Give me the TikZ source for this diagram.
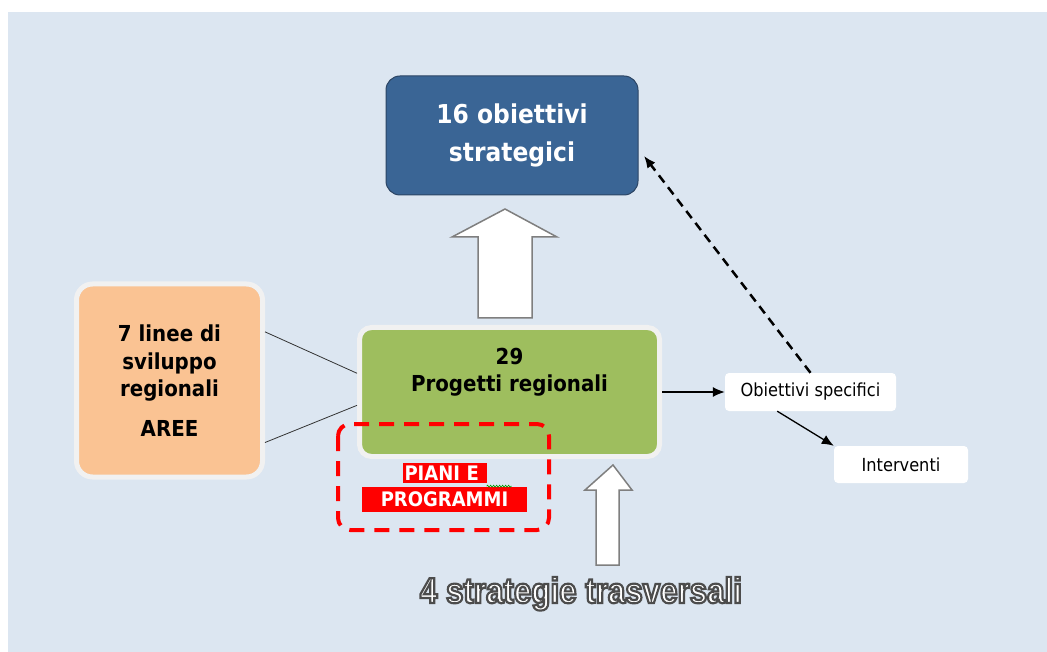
\documentclass[tikz,border=0pt]{standalone}
\usepackage{fontspec}
\setmainfont{DejaVu Sans}[FakeStretch=0.9]
\newfontfamily\stratfont{Liberation Sans}[FakeStretch=0.87,
    UprightFeatures={FakeBold=6}, BoldFeatures={FakeBold=6}]
\usetikzlibrary{arrows.meta,calc,decorations.pathmorphing}
\definecolor{sfondo}{HTML}{DCE6F1}
\definecolor{blustrat}{HTML}{3A6595}
\definecolor{bordoblu}{HTML}{2C4564}
\definecolor{arancio}{HTML}{FAC393}
\definecolor{verde}{HTML}{9EBE5E}
\definecolor{cornice}{HTML}{F1F1F1}
\definecolor{grigio}{HTML}{7F7F7F}
\newcommand{\contorno}{\special{pdf:code 0.3 G}}
\begin{document}
\begin{tikzpicture}[
            x=1pt, y=-1pt,
            every node/.style={align=center, inner sep=0pt},
            obiettivi/.style={draw=bordoblu, fill=blustrat, line width=1pt, rounded corners=14pt,
                text=white, font=\fontsize{26}{38}\selectfont\bfseries,
                minimum width=252pt, minimum height=119pt},
            area/.style={draw=cornice, fill=arancio, line width=5pt, rounded corners=16pt,
                font=\fontsize{22}{27.5}\selectfont\bfseries,
                minimum width=186pt, minimum height=193pt},
            progetto/.style={draw=cornice, fill=verde, line width=5pt, rounded corners=12pt,
                minimum width=300pt, minimum height=129pt},
            voce/.style={fill=white, rounded corners=4pt, font=\fontsize{18}{22}\selectfont,
                minimum height=38pt},
            piano/.style={fill=red, text=white, font=\fontsize{20}{24}\selectfont\bfseries},
            frecciona/.style={draw=grigio, fill=white, line width=1.5pt},
            freccia/.style={-{Latex[length=12pt,width=10pt]}, line width=1.3pt},
            strategie/.style={anchor=base, text=white, font=\stratfont\fontsize{36}{40}\selectfont\bfseries}
            ]
            \useasboundingbox (0,0) rectangle (1047,652);
            \fill[white] (0,0) rectangle (1047,652);
            \fill[sfondo] (8,12) rectangle (1047,652);

            \node[obiettivi] (strat) at (512,135.5) {16 obiettivi\\strategici};
            \node[area] (aree) at (169.5,380.5) {7 linee di\\sviluppo\\regionali\\[12pt]AREE};
            \node[progetto] (prog) at (509.5,392) {};
            \node[font=\fontsize{22}{27}\selectfont\bfseries] (progtxt) at (509.5,372) {29\\Progetti regionali};
            \node[voce, minimum width=171pt] (obj) at (810.5,392) {Obiettivi specifici};
            \node[voce, minimum width=134pt, minimum height=37pt] (interv) at (901,464.5) {Interventi};

            \draw[frecciona] (478,318) -- (478,237) -- (452,237) -- (505,209) -- (557,237) -- (532,237) -- (532,318) -- cycle;
            \draw[frecciona] (596,565) -- (596,490) -- (585,490) -- (613,465) -- (632,490) -- (619,490) -- (619,565) -- cycle;

            \draw[black!80, line width=0.8pt] (aree.27) -- (prog.173);
            \draw[black!80, line width=0.8pt] (aree.-33) -- (prog.185);
            \draw[freccia] (prog.east) -- (obj.west);
            \draw[freccia] (obj.210) -- (interv.north west);
            \draw[freccia, line width=2.5pt, dash pattern=on 9pt off 6pt, shorten >=9pt,
                -{Latex[length=12pt,width=10pt]}] (obj.north) -- (strat.-6);

            \node[piano, text width=80pt, align=left, inner xsep=2pt, minimum height=20pt] (piani) at (444.5,473) {PIANI E};
            \node[piano, minimum width=165pt, minimum height=25pt] (programmi) at (444.5,499.5) {PROGRAMMI};
            \draw[green!60!black, line width=0.6pt, decorate,
                decoration={snake, amplitude=1pt, segment length=3pt}]
                ($(piani.south east)+(0,3)$) -- ++(25,0);
            \draw[red, line width=4pt, dash pattern=on 15pt off 10pt, rounded corners=12pt]
                (338,424) rectangle (549,530);

            \node[strategie] (trasv) at (581,603) {\contorno 4 strategie trasversali};
        \end{tikzpicture}
\end{document}
